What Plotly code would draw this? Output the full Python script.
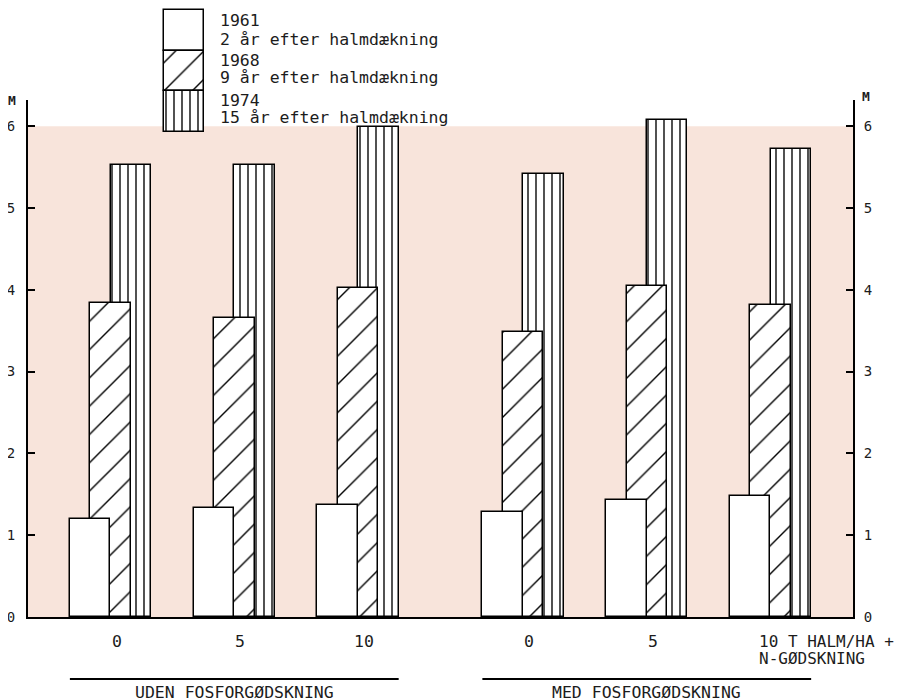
import plotly.graph_objects as go

# ---- data ----
groups = ["0", "5", "10", "0", "5", "10 T HALM/HA +"]
group_sets = ["UDEN FOSFORGØDSKNING", "MED FOSFORGØDSKNING"]
years = ["1961", "1968", "1974"]
year_notes = ["2 år efter halmdækning", "9 år efter halmdækning", "15 år efter halmdækning"]
v1961 = [1.20, 1.33, 1.37, 1.28, 1.43, 1.48]
v1968 = [3.84, 3.65, 4.02, 3.49, 4.05, 3.82]
v1974 = [5.53, 5.53, 5.99, 5.41, 6.08, 5.72]
y_ticks = [0, 1, 2, 3, 4, 5, 6]
unit_label = "M"

# ---- layout helpers ----
FONT = "DejaVu Sans Mono"
INK = "#1c1c1c"
PINK = "#f8e4db"
set_gap = 1 / 3
pos = [i + (set_gap if i >= 3 else 0) for i in range(len(groups))]
bw = 0.327
off = 0.165

# page is offset by the default 8px body margin; work in page pixels and convert
OFS = 8
W, H = 904 - OFS, 699 - OFS
# page coords of plot frame: left axis 28, right axis 853, top 8 (frame), zero line 617
P_L, P_R, P_T, P_B = 28, 853, 8, 617
ML, MR, MT, MB = P_L - OFS, (904 - P_R), P_T - OFS, (699 - P_B)
PW, PH = W - ML - MR, H - MT - MB


def py(p):  # page y pixel -> paper y
    return (P_B - p) / PH


def px(p):  # page x pixel -> paper x
    return (p - P_L) / PW


fig = go.Figure()

styles = {
    "1974": dict(shape="|", size=8, solidity=0.17),
    "1968": dict(shape="/", size=20, solidity=0.07),
    "1961": dict(shape="", size=8, solidity=0.2),
}
series = {"1961": v1961, "1968": v1968, "1974": v1974}
offsets = {"1961": -off, "1968": 0.0, "1974": off}

for yr in ["1974", "1968", "1961"]:
    st = styles[yr]
    fig.add_trace(go.Bar(
        x=[p + offsets[yr] for p in pos], y=series[yr], width=bw,
        marker=dict(color="white", line=dict(color="black", width=1.5),
                    pattern=dict(shape=st["shape"], size=st["size"], solidity=st["solidity"],
                                 fgcolor="black", bgcolor="white", fillmode="replace")),
        showlegend=False, hoverinfo="skip", xaxis="x", yaxis="y", cliponaxis=False))

# invisible trace to carry the right axis
fig.add_trace(go.Scatter(x=[pos[0]], y=[0], yaxis="y2", xaxis="x", mode="markers",
                         marker=dict(opacity=0), showlegend=False, hoverinfo="skip"))

# legend swatches as a tiny bar subplot
for k, yr in enumerate(years):
    st = styles[yr]
    fig.add_trace(go.Bar(
        x=[0], y=[1], base=[2 - k], width=1,
        marker=dict(color="white", line=dict(color="black", width=1.5),
                    pattern=dict(shape=st["shape"], size=st["size"], solidity=st["solidity"],
                                 fgcolor="black", bgcolor="white", fillmode="replace")),
        showlegend=False, hoverinfo="skip", xaxis="x2", yaxis="y3", cliponaxis=False))

x_lo = -0.667
x_hi = 6.0
y_top = 6.32
main_top = py(100)

fig.update_layout(
    width=W, height=H, autosize=False,
    margin=dict(l=ML, r=MR, t=MT, b=MB),
    paper_bgcolor="white", plot_bgcolor="rgba(0,0,0,0)",
    barmode="overlay", bargap=0,
    font=dict(family=FONT, color=INK, size=16),
    xaxis=dict(range=[x_lo, x_hi], showgrid=False, zeroline=False, showticklabels=False,
               ticks="", showline=True, linecolor="black", linewidth=1.5, anchor="y"),
    yaxis=dict(domain=[0, main_top], range=[0, y_top], tickvals=y_ticks, showgrid=False,
               zeroline=False, showline=True, linecolor="black", linewidth=2,
               ticks="inside", ticklen=7, tickwidth=1.5, tickcolor="black",
               tickfont=dict(family=FONT, size=14, color=INK), ticklabelstandoff=8),
    yaxis2=dict(overlaying="y", side="right", range=[0, y_top], tickvals=y_ticks, showgrid=False,
                zeroline=False, showline=True, linecolor="black", linewidth=2,
                ticks="inside", ticklen=7, tickwidth=1.5, tickcolor="black",
                tickfont=dict(family=FONT, size=14, color=INK), ticklabelstandoff=6,
                anchor="x"),
    xaxis2=dict(domain=[px(162), px(206)], range=[-0.55, 0.55], visible=False, anchor="y3"),
    yaxis3=dict(domain=[py(134), py(8)], range=[-0.05, 3.05], visible=False, anchor="x2"),
)

# pink plot area band (0..6)
fig.add_shape(type="rect", xref="x", yref="y", x0=x_lo, x1=x_hi, y0=0, y1=y_ticks[-1],
              fillcolor=PINK, line=dict(width=0), layer="below")

ann = []
LBL = 16.5
# category labels
for i, g in enumerate(groups[:-1]):
    ann.append(dict(x=pos[i] + 0.05, y=py(641), xref="x", yref="paper", text=g,
                    showarrow=False, xanchor="center", yanchor="middle",
                    font=dict(size=LBL)))
last = groups[-1]
ann.append(dict(x=pos[-1] - 0.11, y=py(641), xref="x", yref="paper", text=last,
                showarrow=False, xanchor="left", yanchor="middle", font=dict(size=16)))
ann.append(dict(x=pos[-1] - 0.11, y=py(658), xref="x", yref="paper", text="N-GØDSKNING",
                showarrow=False, xanchor="left", yanchor="middle", font=dict(size=16)))

# group underlines and titles
for s, name in enumerate(group_sets):
    a = pos[3 * s] - off - bw / 2
    b = pos[3 * s + 2] + off + bw / 2
    fig.add_shape(type="line", xref="x", yref="paper", x0=a, x1=b,
                  y0=py(679), y1=py(679), line=dict(color="black", width=2))
    ann.append(dict(x=(a + b) / 2, y=py(692), xref="x", yref="paper", text=name,
                    showarrow=False, xanchor="center", yanchor="middle", font=dict(size=LBL)))

# unit labels
ann.append(dict(x=px(12), y=py(100), xref="paper", yref="paper", text="<b>" + unit_label + "</b>",
                showarrow=False, xanchor="center", yanchor="middle", font=dict(size=13)))
ann.append(dict(x=px(866), y=py(96), xref="paper", yref="paper", text="<b>" + unit_label + "</b>",
                showarrow=False, xanchor="center", yanchor="middle", font=dict(size=13)))

# legend text
leg_y = [(21, 39), (60, 78), (100, 117)]
for k in range(3):
    ann.append(dict(x=px(218), y=py(leg_y[k][0]), xref="paper", yref="paper", text=years[k],
                    showarrow=False, xanchor="left", yanchor="middle", font=dict(size=LBL)))
    ann.append(dict(x=px(218), y=py(leg_y[k][1]), xref="paper", yref="paper", text=year_notes[k],
                    showarrow=False, xanchor="left", yanchor="middle", font=dict(size=LBL)))

fig.update_layout(annotations=ann)
fig.write_html("out.html")
